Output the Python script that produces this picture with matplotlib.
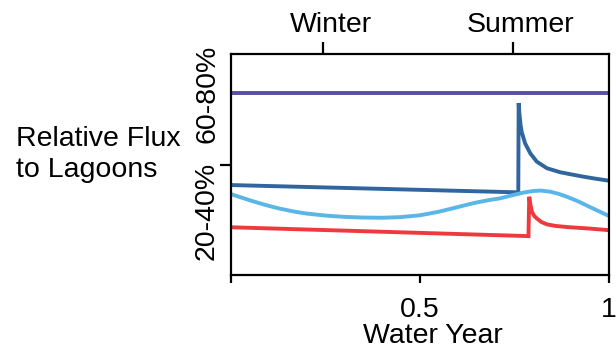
import matplotlib
matplotlib.use("Agg")
import matplotlib.pyplot as plt
import matplotlib.transforms as mtransforms

plt.rcParams['font.family'] = ['Liberation Sans', 'DejaVu Sans']

# Seasonal flux series across one water year (fraction of axis height)
purple_x = [0.0, 1.0]
purple_y = [0.824, 0.824]

dark_x = [0.0, 0.761, 0.762, 0.764, 0.767, 0.770, 0.779, 0.793, 0.81, 0.837, 0.872, 0.899,
          0.93, 0.965, 1.0]
dark_y = [0.407, 0.374, 0.778, 0.73, 0.68, 0.648, 0.596, 0.55, 0.513, 0.483, 0.465, 0.456,
          0.446, 0.436, 0.427]

light_x = [0.0, 0.025, 0.05, 0.077, 0.1, 0.125, 0.15, 0.167, 0.2, 0.25, 0.3, 0.35, 0.4,
           0.45, 0.5, 0.55, 0.571, 0.6, 0.625, 0.65, 0.68, 0.713, 0.75, 0.775, 0.8,
           0.82, 0.846, 0.87, 0.89, 0.92, 0.943, 0.97, 1.0]
light_y = [0.366, 0.352, 0.338, 0.324, 0.313, 0.302, 0.293, 0.287, 0.278, 0.269, 0.263,
           0.260, 0.259, 0.262, 0.270, 0.286, 0.295, 0.307, 0.318, 0.328, 0.338, 0.347,
           0.363, 0.373, 0.380, 0.382, 0.377, 0.366, 0.354, 0.333, 0.314, 0.292, 0.268]

red_x = [0.0, 0.788, 0.790, 0.793, 0.797, 0.803, 0.81, 0.822, 0.837, 0.86, 0.89, 0.95, 1.0]
red_y = [0.216, 0.176, 0.354, 0.32, 0.287, 0.268, 0.256, 0.240, 0.229, 0.222, 0.217, 0.210, 0.203]

xticks = [0.0, 0.5, 1.0]
xticklabels = ['', '0.5', '1']
season_pos = [0.245, 0.747]
season_labels = ['Winter', 'Summer']
band_pos = [0.821, 0.29]
band_labels = ['60-80%', '20-40%']

FS = 20.5

fig = plt.figure(figsize=(6.16, 3.54), dpi=100)
ax = fig.add_axes([231 / 616, 1 - 275 / 354, (608.5 - 231) / 616, (275 - 54) / 354])

ax.plot(purple_x, purple_y, color='#5a4fa0', lw=2.8, solid_capstyle='butt')
ax.plot(dark_x, dark_y, color='#30659e', lw=2.8, solid_joinstyle='miter')
ax.plot(light_x, light_y, color='#5ab6e6', lw=2.8)
ax.plot(red_x, red_y, color='#ee3a3e', lw=2.8, solid_joinstyle='miter')

ax.set_xlim(0, 1)
ax.set_ylim(0, 1)
for s in ax.spines.values():
    s.set_linewidth(1.6)

ax.set_xticks(xticks)
ax.set_xticklabels(xticklabels, fontsize=FS)
ax.tick_params(axis='x', direction='out', length=6, width=1.6, pad=10)
ax.set_yticks([0.5])
ax.set_yticklabels([''])
ax.tick_params(axis='y', direction='out', length=8, width=1.6)

# Season ticks along the top edge
top = ax.secondary_xaxis('top')
top.set_xticks(season_pos)
top.set_xticklabels([''] * len(season_pos))
top.tick_params(direction='out', length=9, width=1.6)
top.spines['top'].set_visible(False)
season_trans = mtransforms.blended_transform_factory(ax.transData, fig.transFigure)
for p, lab in zip(season_pos, season_labels):
    ax.text(p + 0.021, 1 - 32 / 354, lab, transform=season_trans,
            ha='center', va='baseline', fontsize=FS)

# Band labels on the left
trans = mtransforms.blended_transform_factory(fig.transFigure, ax.transData)
for p, lab in zip(band_pos, band_labels):
    ax.text(207 / 616, p, lab, transform=trans, rotation=90, ha='center', va='center', fontsize=FS)

fig.text(16 / 616, 1 - 146 / 354, 'Relative Flux', ha='left', va='baseline', fontsize=FS)
fig.text(16 / 616, 1 - 177 / 354, 'to Lagoons', ha='left', va='baseline', fontsize=FS)
fig.text(433 / 616, 1 - 343 / 354, 'Water Year', ha='center', va='baseline', fontsize=FS)

fig.savefig('out.png', dpi=100)
